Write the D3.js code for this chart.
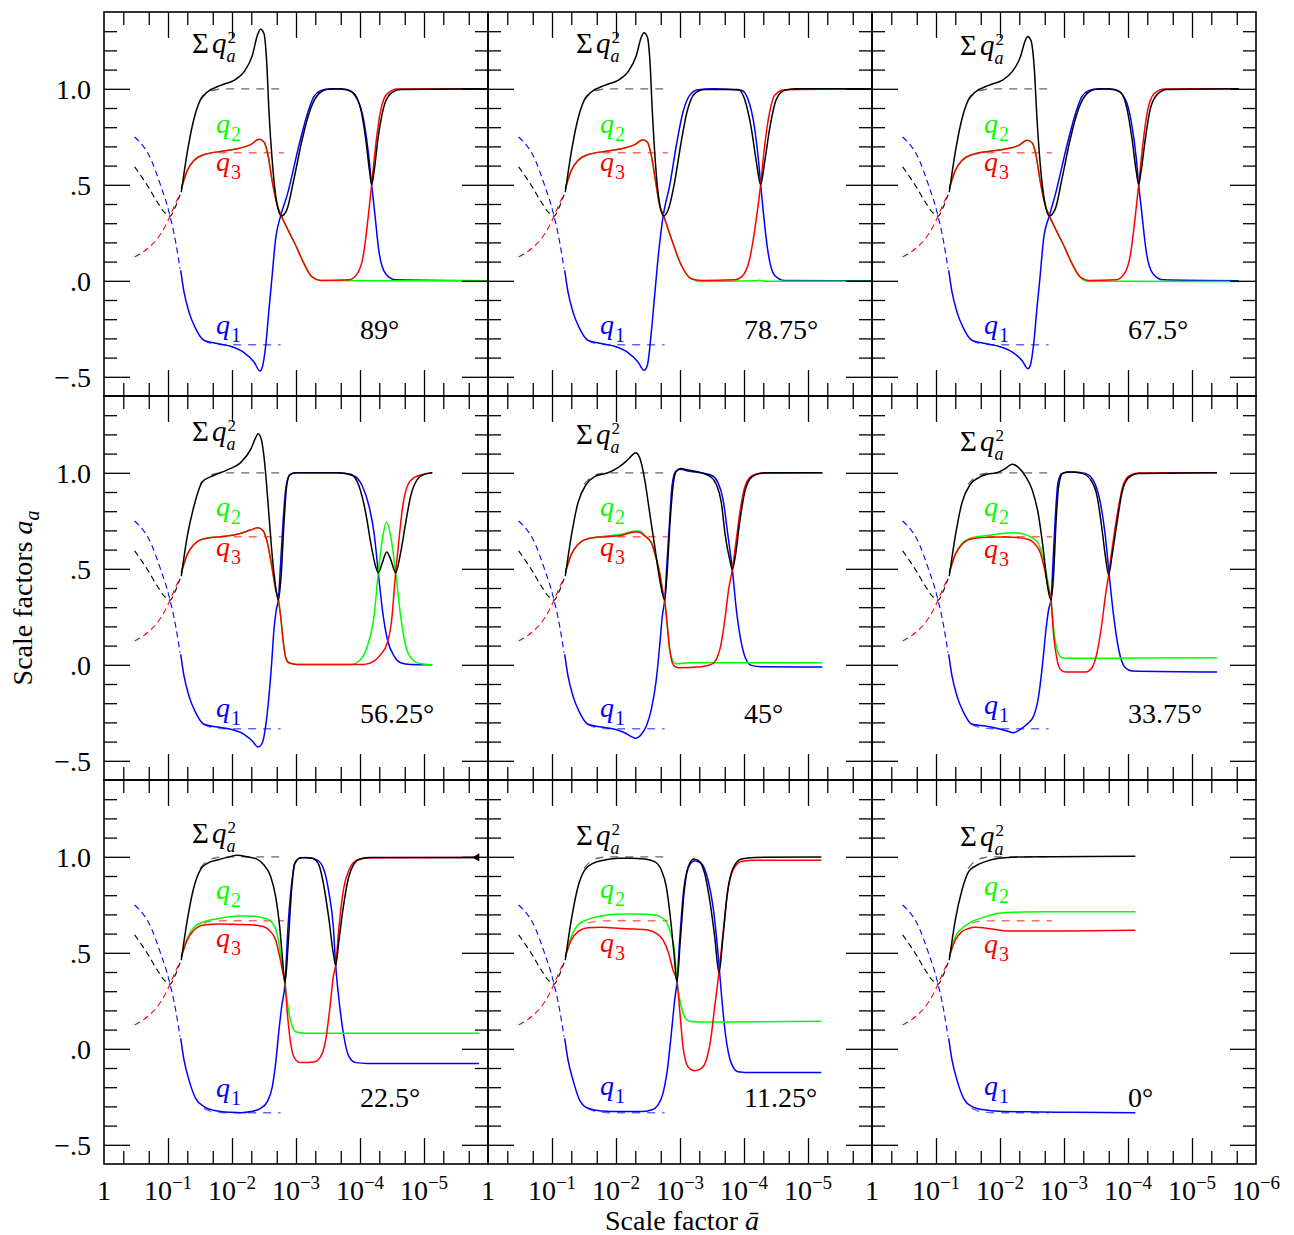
<!DOCTYPE html>
<html><head><meta charset="utf-8">
<script src="https://cdn.jsdelivr.net/npm/d3@7/dist/d3.min.js"></script>
<style>body{margin:0;background:#fff} svg text{font-family:"Liberation Serif","Times New Roman",Times,serif}</style>
</head><body>
<svg id="chart" width="1294" height="1235"></svg>
<script>
// ---------- DATA (x = log10(1/ā), value) ----------
const panelAngles = ["89°","78.75°","67.5°","56.25°","45°","33.75°","22.5°","11.25°","0°"];

// shared early dashed reference curves
const earlyQ1  = [[0.479,0.749],[0.729,0.636],[0.885,0.497],[1.016,0.358],[1.12,0.202],[1.188,0.063]];
const earlySum = [[0.479,0.593],[0.677,0.497],[0.833,0.41],[0.964,0.35],[1.031,0.337],[1.104,0.376],[1.188,0.449]];
const earlyQ3  = [[0.479,0.124],[0.677,0.167],[0.833,0.219],[0.964,0.289],[1.031,0.337],[1.104,0.393],[1.188,0.454]];
// late dashed reference levels
const refSum = [[1.5,0.94],[1.6,0.975],[1.75,0.995],[1.9,1.0],[2.81,1.0]];
const refQ3  = [[1.56,0.655],[1.7,0.664],[1.9,0.667],[2.81,0.667]];
const refQ1  = [[1.56,-0.31],[1.7,-0.328],[1.9,-0.333],[2.76,-0.333]];

// 89°
const p89Sum = [[1.208,0.462],[1.302,0.671],[1.406,0.844],[1.51,0.945],[1.615,0.983],[1.823,1.018],[2.031,1.044],[2.188,1.088],[2.318,1.174],[2.396,1.278],[2.448,1.31],[2.5,1.287],[2.542,1.14],[2.578,0.879],[2.63,0.619],[2.698,0.41],[2.771,0.338],[2.854,0.367],[2.969,0.532],[3.099,0.74],[3.229,0.897],[3.359,0.975],[3.49,0.997],[3.698,1.0],[3.88,0.983],[4.01,0.897],[4.089,0.74],[4.151,0.567],[4.182,0.501],[4.219,0.567],[4.281,0.74],[4.365,0.897],[4.479,0.975],[4.635,0.997],[5.99,1.0]];
const p89Q1 = [[1.198,0.054],[1.25,-0.058],[1.328,-0.163],[1.432,-0.249],[1.563,-0.31],[1.771,-0.327],[1.979,-0.341],[2.188,-0.374],[2.344,-0.423],[2.4375,-0.47],[2.474,-0.449],[2.526,-0.34],[2.578,-0.15],[2.62,0.0],[2.682,0.22],[2.76,0.338],[2.865,0.45],[3.047,0.706],[3.187,0.879],[3.281,0.96],[3.385,0.99],[3.542,1.0],[3.802,0.995],[3.958,0.945],[4.063,0.827],[4.141,0.636],[4.182,0.501],[4.229,0.358],[4.297,0.15],[4.401,0.037],[4.557,0.005],[5.99,0.0]];
const p89Q3 = [[1.208,0.48],[1.302,0.575],[1.406,0.627],[1.563,0.657],[1.823,0.674],[2.083,0.688],[2.292,0.709],[2.422,0.737],[2.5,0.723],[2.563,0.653],[2.63,0.515],[2.708,0.393],[2.771,0.338],[2.865,0.272],[2.995,0.185],[3.125,0.089],[3.255,0.019],[3.385,0.002],[3.828,0.005],[3.958,0.037],[4.052,0.132],[4.125,0.324],[4.182,0.501],[4.245,0.706],[4.323,0.888],[4.427,0.975],[4.583,0.999],[5.99,1.0]];
const p89Q2 = [[1.208,0.48],[1.302,0.575],[1.406,0.627],[1.563,0.657],[1.823,0.674],[2.083,0.688],[2.292,0.709],[2.422,0.737],[2.5,0.723],[2.563,0.653],[2.63,0.515],[2.708,0.393],[2.771,0.338],[2.865,0.272],[2.995,0.185],[3.125,0.089],[3.255,0.019],[3.385,0.002],[4.5,0.0],[5.99,0.0]];

// 78.75°
const p7875Sum = [[1.208,0.462],[1.302,0.671],[1.406,0.844],[1.51,0.945],[1.615,0.983],[1.823,1.018],[2.031,1.044],[2.188,1.088],[2.318,1.174],[2.396,1.27],[2.4375,1.292],[2.49,1.27],[2.531,1.14],[2.568,0.879],[2.615,0.619],[2.677,0.41],[2.745,0.338],[2.8125,0.367],[2.917,0.515],[3.01,0.706],[3.109,0.879],[3.229,0.975],[3.385,0.997],[3.906,0.997],[4.01,0.945],[4.115,0.792],[4.193,0.619],[4.26,0.501],[4.323,0.619],[4.401,0.792],[4.505,0.945],[4.635,0.992],[4.792,1.0],[5.99,1.0]];
const p7875Q1 = [[1.198,0.054],[1.25,-0.058],[1.328,-0.163],[1.432,-0.249],[1.563,-0.31],[1.771,-0.327],[1.979,-0.341],[2.188,-0.374],[2.344,-0.423],[2.4375,-0.466],[2.49,-0.44],[2.552,-0.267],[2.604,-0.076],[2.667,0.15],[2.734,0.332],[2.839,0.497],[2.943,0.706],[3.047,0.879],[3.151,0.966],[3.281,0.995],[3.542,1.0],[3.958,0.992],[4.0625,0.945],[4.167,0.792],[4.229,0.619],[4.26,0.501],[4.302,0.358],[4.375,0.15],[4.479,0.028],[4.635,0.002],[5.99,0.0]];
const p7875Q3 = [[1.208,0.48],[1.302,0.575],[1.406,0.627],[1.563,0.657],[1.823,0.674],[2.083,0.688],[2.292,0.709],[2.422,0.735],[2.49,0.723],[2.552,0.653],[2.62,0.515],[2.682,0.393],[2.745,0.338],[2.865,0.219],[3.021,0.081],[3.177,0.0105],[3.333,0.002],[3.854,0.005],[3.958,0.019],[4.089,0.115],[4.193,0.324],[4.26,0.501],[4.323,0.706],[4.401,0.879],[4.479,0.966],[4.635,0.995],[5.99,1.0]];
const p7875Q2 = [[1.208,0.48],[1.302,0.575],[1.406,0.627],[1.563,0.657],[1.823,0.674],[2.083,0.688],[2.292,0.709],[2.422,0.735],[2.49,0.723],[2.552,0.653],[2.62,0.515],[2.682,0.393],[2.745,0.338],[2.865,0.219],[3.021,0.081],[3.177,0.0105],[3.333,-0.003],[4.167,0.0],[4.245,0.003],[4.323,-0.002],[5.99,-0.002]];

// 67.5°
const p675Sum = [[1.208,0.462],[1.302,0.671],[1.406,0.844],[1.51,0.945],[1.615,0.983],[1.823,1.018],[2.031,1.044],[2.188,1.088],[2.318,1.166],[2.396,1.252],[2.432,1.273],[2.484,1.252],[2.536,1.105],[2.578,0.844],[2.63,0.601],[2.698,0.41],[2.771,0.338],[2.865,0.376],[2.969,0.532],[3.099,0.74],[3.229,0.897],[3.359,0.975],[3.49,0.997],[3.698,1.0],[3.88,0.983],[3.984,0.897],[4.0625,0.74],[4.13,0.567],[4.167,0.501],[4.203,0.567],[4.271,0.74],[4.349,0.897],[4.469,0.975],[4.609,0.997],[5.729,1.0]];
const p675Q1 = [[1.198,0.054],[1.25,-0.058],[1.328,-0.163],[1.432,-0.249],[1.563,-0.31],[1.771,-0.327],[1.979,-0.341],[2.188,-0.37],[2.344,-0.415],[2.4375,-0.458],[2.474,-0.44],[2.526,-0.33],[2.578,-0.14],[2.62,0.0],[2.682,0.22],[2.771,0.338],[2.865,0.45],[3.047,0.706],[3.187,0.879],[3.281,0.96],[3.385,0.99],[3.542,1.0],[3.802,0.995],[3.958,0.945],[4.052,0.827],[4.13,0.636],[4.167,0.501],[4.214,0.358],[4.286,0.15],[4.39,0.037],[4.55,0.005],[5.729,0.0]];
const p675Q3 = [[1.208,0.48],[1.302,0.575],[1.406,0.627],[1.563,0.657],[1.823,0.674],[2.083,0.686],[2.292,0.705],[2.422,0.732],[2.5,0.72],[2.563,0.653],[2.63,0.515],[2.708,0.393],[2.771,0.338],[2.865,0.272],[2.995,0.185],[3.125,0.089],[3.255,0.019],[3.385,0.002],[3.81,0.005],[3.943,0.037],[4.036,0.132],[4.11,0.324],[4.167,0.501],[4.23,0.706],[4.307,0.888],[4.41,0.975],[4.57,0.999],[5.729,1.0]];
const p675Q2 = [[1.208,0.48],[1.302,0.575],[1.406,0.627],[1.563,0.657],[1.823,0.674],[2.083,0.686],[2.292,0.705],[2.422,0.732],[2.5,0.72],[2.563,0.653],[2.63,0.515],[2.708,0.393],[2.771,0.338],[2.865,0.272],[2.995,0.185],[3.125,0.089],[3.255,0.019],[3.385,-0.003],[4.0,-0.002],[5.729,-0.004]];

// 56.25°
const p5625Sum = [[1.208,0.462],[1.302,0.671],[1.406,0.827],[1.536,0.952],[1.719,0.987],[1.927,1.015],[2.135,1.053],[2.292,1.122],[2.37,1.183],[2.406,1.204],[2.458,1.174],[2.51,1.053],[2.5625,0.844],[2.615,0.619],[2.667,0.445],[2.724,0.338],[2.771,0.48],[2.8125,0.74],[2.854,0.931],[2.906,0.992],[3.021,1.0],[3.646,1.0],[3.854,0.992],[3.984,0.931],[4.089,0.792],[4.167,0.636],[4.229,0.532],[4.286,0.48],[4.349,0.532],[4.417,0.588],[4.479,0.549],[4.557,0.48],[4.635,0.584],[4.714,0.74],[4.792,0.879],[4.896,0.966],[5.0,0.992],[5.13,1.0]];
const p5625Q1 = [[1.198,0.054],[1.25,-0.058],[1.328,-0.163],[1.432,-0.249],[1.563,-0.31],[1.771,-0.324],[1.979,-0.336],[2.188,-0.362],[2.318,-0.397],[2.406,-0.428],[2.474,-0.406],[2.526,-0.319],[2.578,-0.1625],[2.62,0.011],[2.656,0.185],[2.693,0.289],[2.724,0.338],[2.76,0.532],[2.797,0.74],[2.839,0.914],[2.891,0.983],[2.969,1.0],[3.646,1.0],[3.906,0.983],[4.036,0.931],[4.141,0.827],[4.219,0.688],[4.286,0.48],[4.349,0.289],[4.427,0.133],[4.531,0.046],[4.635,0.011],[4.792,0.002],[5.13,0.0]];
const p5625Q3 = [[1.208,0.48],[1.302,0.575],[1.406,0.627],[1.563,0.657],[1.823,0.667],[2.083,0.68],[2.292,0.702],[2.406,0.714],[2.49,0.697],[2.552,0.636],[2.63,0.497],[2.682,0.393],[2.724,0.338],[2.76,0.254],[2.797,0.133],[2.839,0.037],[2.891,0.0105],[3.021,0.002],[4.0625,0.002],[4.219,0.019],[4.323,0.054],[4.427,0.115],[4.49,0.219],[4.557,0.48],[4.609,0.653],[4.661,0.81],[4.74,0.931],[4.844,0.975],[5.0,0.992],[5.13,1.0]];
const p5625Q2 = [[1.208,0.48],[1.302,0.575],[1.406,0.627],[1.563,0.657],[1.823,0.667],[2.083,0.68],[2.292,0.702],[2.406,0.714],[2.49,0.697],[2.552,0.636],[2.63,0.497],[2.682,0.393],[2.724,0.338],[2.76,0.254],[2.797,0.133],[2.839,0.037],[2.891,0.0105],[3.021,0.002],[3.854,0.002],[4.01,0.028],[4.115,0.098],[4.219,0.254],[4.286,0.48],[4.349,0.653],[4.417,0.744],[4.479,0.671],[4.557,0.48],[4.635,0.254],[4.714,0.098],[4.818,0.028],[4.948,0.005],[5.13,0.0]];

// 45°
const p45Sum = [[1.208,0.462],[1.302,0.671],[1.406,0.844],[1.536,0.94],[1.667,0.98],[1.875,1.0],[2.031,1.027],[2.161,1.061],[2.266,1.096],[2.307,1.105],[2.37,1.079],[2.448,0.966],[2.526,0.792],[2.604,0.619],[2.682,0.445],[2.76,0.338],[2.802,0.497],[2.844,0.74],[2.891,0.931],[2.943,1.009],[3.01,1.022],[3.125,1.015],[3.333,1.0],[3.464,0.983],[3.568,0.94],[3.646,0.844],[3.708,0.671],[3.776,0.549],[3.818,0.497],[3.865,0.567],[3.932,0.74],[4.01,0.897],[4.089,0.966],[4.193,0.992],[4.323,1.0],[5.224,1.0]];
const p45Q1 = [[1.198,0.054],[1.25,-0.058],[1.328,-0.163],[1.432,-0.249],[1.563,-0.31],[1.771,-0.324],[1.979,-0.336],[2.135,-0.354],[2.24,-0.374],[2.307,-0.383],[2.396,-0.362],[2.474,-0.319],[2.552,-0.232],[2.63,-0.076],[2.682,0.098],[2.724,0.254],[2.76,0.338],[2.797,0.532],[2.839,0.758],[2.875,0.931],[2.927,1.004],[3.01,1.018],[3.125,1.009],[3.333,1.0],[3.49,0.987],[3.594,0.949],[3.672,0.862],[3.75,0.671],[3.818,0.497],[3.88,0.289],[3.948,0.133],[4.021,0.037],[4.115,-0.003],[4.271,-0.01],[5.224,-0.0115]];
const p45Q3 = [[1.208,0.48],[1.302,0.575],[1.406,0.627],[1.563,0.657],[1.823,0.667],[2.083,0.674],[2.292,0.692],[2.37,0.69],[2.448,0.671],[2.552,0.636],[2.604,0.584],[2.682,0.48],[2.734,0.376],[2.76,0.338],[2.797,0.219],[2.839,0.081],[2.891,0.002],[2.969,-0.016],[3.333,-0.01],[3.49,0.002],[3.568,0.028],[3.646,0.115],[3.708,0.254],[3.76,0.393],[3.818,0.497],[3.88,0.653],[3.943,0.81],[4.01,0.923],[4.115,0.983],[4.245,0.997],[5.224,1.0]];
const p45Q2 = [[1.208,0.48],[1.302,0.575],[1.406,0.627],[1.563,0.657],[1.823,0.67],[2.083,0.68],[2.292,0.697],[2.37,0.695],[2.448,0.675],[2.552,0.636],[2.604,0.584],[2.682,0.48],[2.734,0.376],[2.76,0.338],[2.797,0.219],[2.839,0.081],[2.891,0.019],[2.943,0.005],[3.125,0.0105],[3.646,0.0105],[5.224,0.0105]];

// 33.75°
const p3375Sum = [[1.208,0.462],[1.302,0.671],[1.406,0.844],[1.536,0.94],[1.667,0.975],[1.797,0.992],[1.953,1.0],[2.083,1.022],[2.188,1.044],[2.292,1.027],[2.396,0.983],[2.5,0.914],[2.604,0.775],[2.682,0.584],[2.734,0.428],[2.797,0.338],[2.839,0.48],[2.875,0.74],[2.917,0.931],[2.979,0.997],[3.073,1.004],[3.281,0.997],[3.411,0.966],[3.516,0.879],[3.594,0.706],[3.646,0.567],[3.698,0.468],[3.75,0.567],[3.828,0.74],[3.906,0.897],[4.01,0.975],[4.167,0.997],[5.391,1.0]];
const p3375Q1 = [[1.198,0.054],[1.25,-0.058],[1.328,-0.163],[1.432,-0.249],[1.563,-0.31],[1.771,-0.319],[1.979,-0.333],[2.135,-0.347],[2.214,-0.354],[2.318,-0.336],[2.422,-0.31],[2.526,-0.267],[2.604,-0.1625],[2.667,0.011],[2.719,0.185],[2.76,0.289],[2.797,0.338],[2.828,0.532],[2.865,0.775],[2.906,0.949],[2.969,0.997],[3.125,1.004],[3.333,0.997],[3.464,0.957],[3.568,0.844],[3.646,0.671],[3.708,0.462],[3.776,0.254],[3.854,0.081],[3.958,-0.015],[4.0625,-0.032],[5.391,-0.0375]];
const p3375Q3 = [[1.208,0.48],[1.302,0.575],[1.406,0.627],[1.563,0.657],[1.823,0.664],[2.083,0.666],[2.292,0.662],[2.448,0.653],[2.552,0.627],[2.63,0.584],[2.708,0.48],[2.76,0.393],[2.797,0.338],[2.839,0.15],[2.891,0.028],[2.943,-0.024],[3.021,-0.0375],[3.333,-0.0375],[3.4375,-0.015],[3.516,0.063],[3.594,0.219],[3.646,0.358],[3.698,0.468],[3.75,0.601],[3.828,0.775],[3.906,0.914],[4.01,0.983],[4.167,0.999],[5.391,1.0]];
const p3375Q2 = [[1.208,0.48],[1.302,0.575],[1.406,0.633],[1.563,0.662],[1.823,0.674],[2.083,0.685],[2.188,0.688],[2.344,0.683],[2.5,0.662],[2.604,0.627],[2.682,0.549],[2.76,0.41],[2.797,0.338],[2.839,0.185],[2.891,0.081],[2.969,0.037],[3.125,0.034],[4.167,0.035],[5.391,0.037]];

// 22.5°
const p225Sum = [[1.208,0.462],[1.302,0.671],[1.406,0.844],[1.51,0.935],[1.615,0.966],[1.771,0.983],[1.927,0.997],[2.083,1.008],[2.24,1.0],[2.396,0.987],[2.5,0.957],[2.604,0.897],[2.682,0.792],[2.745,0.636],[2.786,0.48],[2.828,0.344],[2.875,0.532],[2.927,0.81],[2.979,0.966],[3.047,0.992],[3.125,0.997],[3.255,0.992],[3.359,0.957],[3.4375,0.844],[3.516,0.671],[3.583,0.497],[3.62,0.436],[3.672,0.567],[3.74,0.74],[3.8125,0.879],[3.896,0.957],[4.01,0.99],[4.167,0.997],[5.859,0.997]];
const p225Q1 = [[1.198,0.054],[1.25,-0.058],[1.328,-0.163],[1.432,-0.258],[1.563,-0.301],[1.771,-0.324],[1.979,-0.331],[2.135,-0.333],[2.292,-0.327],[2.448,-0.31],[2.552,-0.275],[2.63,-0.197],[2.682,-0.076],[2.734,0.098],[2.776,0.219],[2.828,0.341],[2.875,0.636],[2.927,0.844],[2.984,0.966],[3.073,0.995],[3.177,0.995],[3.333,0.983],[3.4375,0.931],[3.516,0.81],[3.583,0.636],[3.62,0.436],[3.672,0.254],[3.74,0.081],[3.828,-0.041],[3.932,-0.072],[4.115,-0.076],[5.859,-0.076]];
const p225Q3 = [[1.208,0.48],[1.302,0.567],[1.406,0.619],[1.563,0.645],[1.823,0.65],[2.083,0.648],[2.344,0.645],[2.5,0.636],[2.604,0.61],[2.682,0.567],[2.745,0.48],[2.797,0.393],[2.828,0.341],[2.865,0.185],[2.917,0.028],[2.979,-0.05],[3.073,-0.072],[3.281,-0.069],[3.385,-0.041],[3.464,0.046],[3.531,0.219],[3.583,0.376],[3.62,0.436],[3.672,0.636],[3.74,0.827],[3.828,0.931],[3.958,0.983],[4.167,0.995],[5.859,0.997]];
const p225Q2 = [[1.208,0.48],[1.302,0.575],[1.406,0.633],[1.563,0.662],[1.823,0.68],[2.083,0.692],[2.24,0.692],[2.448,0.685],[2.578,0.671],[2.667,0.636],[2.734,0.549],[2.786,0.428],[2.828,0.341],[2.875,0.219],[2.927,0.133],[2.995,0.089],[3.125,0.081],[5.859,0.081]];

// 11.25°
const p1125Sum = [[1.208,0.462],[1.302,0.671],[1.406,0.844],[1.51,0.931],[1.641,0.966],[1.823,0.983],[2.031,0.992],[2.24,0.992],[2.448,0.989],[2.604,0.975],[2.708,0.931],[2.786,0.844],[2.854,0.671],[2.906,0.497],[2.953,0.35],[3.005,0.567],[3.073,0.844],[3.151,0.966],[3.219,0.989],[3.307,0.975],[3.385,0.914],[3.464,0.775],[3.542,0.584],[3.609,0.397],[3.672,0.584],[3.74,0.81],[3.828,0.94],[3.958,0.989],[4.167,0.997],[5.208,0.999]];
const p1125Q1 = [[1.198,0.054],[1.25,-0.058],[1.328,-0.163],[1.432,-0.267],[1.563,-0.31],[1.771,-0.324],[2.083,-0.327],[2.396,-0.327],[2.552,-0.319],[2.656,-0.293],[2.734,-0.232],[2.802,-0.11],[2.865,0.081],[2.917,0.254],[2.953,0.35],[2.995,0.567],[3.047,0.792],[3.125,0.94],[3.229,0.98],[3.333,0.966],[3.4375,0.879],[3.516,0.74],[3.594,0.497],[3.646,0.289],[3.708,0.081],[3.802,-0.076],[3.906,-0.119],[4.115,-0.124],[5.208,-0.124]];
const p1125Q3 = [[1.208,0.48],[1.302,0.567],[1.406,0.61],[1.563,0.631],[1.771,0.633],[2.083,0.627],[2.292,0.624],[2.5,0.619],[2.63,0.601],[2.734,0.567],[2.823,0.497],[2.891,0.41],[2.953,0.35],[2.995,0.202],[3.047,0.011],[3.125,-0.093],[3.229,-0.114],[3.333,-0.102],[3.411,-0.058],[3.479,0.046],[3.542,0.219],[3.609,0.397],[3.672,0.601],[3.74,0.81],[3.828,0.931],[3.958,0.975],[4.167,0.982],[5.208,0.982]];
const p1125Q2 = [[1.208,0.48],[1.302,0.584],[1.406,0.645],[1.563,0.674],[1.771,0.692],[2.083,0.702],[2.344,0.702],[2.604,0.697],[2.734,0.68],[2.839,0.619],[2.917,0.497],[2.953,0.35],[3.021,0.219],[3.083,0.159],[3.177,0.141],[3.385,0.14],[5.208,0.143]];

// 0°
const p0Sum = [[1.208,0.462],[1.302,0.671],[1.406,0.827],[1.51,0.923],[1.615,0.952],[1.771,0.975],[1.979,0.992],[2.344,0.999],[2.865,1.0],[4.115,1.003]];
const p0Q1 = [[1.198,0.054],[1.25,-0.058],[1.328,-0.163],[1.432,-0.258],[1.563,-0.301],[1.771,-0.319],[2.083,-0.327],[2.604,-0.329],[3.125,-0.331],[4.115,-0.333]];
const p0Q3 = [[1.208,0.48],[1.302,0.567],[1.406,0.61],[1.51,0.627],[1.615,0.633],[1.823,0.627],[2.083,0.614],[2.344,0.614],[2.865,0.614],[4.115,0.617]];
const p0Q2 = [[1.208,0.48],[1.302,0.584],[1.406,0.627],[1.563,0.662],[1.771,0.688],[1.979,0.706],[2.344,0.7125],[2.865,0.714],[4.115,0.714]];

// ticks
const yMajor = [-0.5, 0, 0.5, 1.0];
const yMinor = [-0.4,-0.3,-0.2,-0.1,0.1,0.2,0.3,0.4,0.6,0.7,0.8,0.9,1.1,1.2,1.3];
const yTickText = ["−.5", ".0", ".5", "1.0"];
const xMajor = [1e-1,1e-2,1e-3,1e-4,1e-5];
const xMinor = [5e-1,2e-1,5e-2,2e-2,5e-3,2e-3,5e-4,2e-4,5e-5,2e-5,5e-6,2e-6];
const xLabelExp = [0,1,2,3,4,5];

// ---------- LAYOUT ----------
const panelSeries = [
  [p89Sum,p89Q1,p89Q2,p89Q3],[p7875Sum,p7875Q1,p7875Q2,p7875Q3],[p675Sum,p675Q1,p675Q2,p675Q3],
  [p5625Sum,p5625Q1,p5625Q2,p5625Q3],[p45Sum,p45Q1,p45Q2,p45Q3],[p3375Sum,p3375Q1,p3375Q2,p3375Q3],
  [p225Sum,p225Q1,p225Q2,p225Q3],[p1125Sum,p1125Q1,p1125Q2,p1125Q3],[p0Sum,p0Q1,p0Q2,p0Q3]
];
const sumLabY = [40.7,40.7,42.7,45,48.3,55,62.7,65,66];
const q2LabY  = [121,121,121,120,120,120,119,118,115];
const q3LabY  = [159,159,159,160,160,162,167,172,173];
const q1LabY  = [322,322,322,321,321,318,317,315,315];

const L0 = 104, T0 = 12, S = 384;
const FS = 28, FSS = 19;
const COL = {sum:"#000000", q1:"#0000ff", q2:"#00ff00", q3:"#ff0000"};

const svg = d3.select("#chart");
svg.append("rect").attr("width",1294).attr("height",1235).attr("fill","#fff");

panelSeries.forEach((ser, i) => {
  const c = i % 3, r = Math.floor(i / 3);
  const x0 = L0 + c*S, y0 = T0 + r*S;
  const x = d3.scaleLog().domain([1, 1e-6]).range([x0, x0+S]);
  const y = d3.scaleLinear().domain([-0.6, 1.4]).range([y0+S, y0]);
  const g = svg.append("g");
  const line = d3.line().x(d => x(Math.pow(10, -d[0]))).y(d => y(d[1])).curve(d3.curveMonotoneX);
  const clipId = "clip"+i;
  g.append("clipPath").attr("id", clipId).append("rect").attr("x",x0).attr("y",y0).attr("width",S).attr("height",S);
  const cg = g.append("g").attr("clip-path", `url(#${clipId})`);

  // early dashed
  const early = [[earlyQ1,COL.q1],[earlySum,COL.sum],[earlyQ3,COL.q3]];
  early.forEach(([d,col]) => cg.append("path").attr("d", line(d)).attr("fill","none")
      .attr("stroke", col).attr("stroke-width",1.1).attr("stroke-dasharray","6,4"));
  const refs = [[refSum,COL.sum],[refQ3,COL.q3],[refQ1,COL.q1]];
  refs.forEach(([d,col]) => cg.append("path").attr("d", line(d)).attr("fill","none")
      .attr("stroke", col).attr("stroke-opacity",0.6).attr("stroke-width",1.3).attr("stroke-dasharray","8,7"));

  // solid curves: order blue, green, red, black
  const [sSum,sQ1,sQ2,sQ3] = ser;
  [[sQ1,COL.q1],[sQ2,COL.q2],[sQ3,COL.q3],[sSum,COL.sum]].forEach(([d,col]) =>
    cg.append("path").attr("d", line(d)).attr("fill","none").attr("stroke",col)
      .attr("stroke-width",1.5).attr("stroke-linejoin","round"));

  // small end marker on the 22.5° sum curve
  if (i === 6) {
    const last = sSum[sSum.length-1];
    g.append("path").attr("d", d3.symbol(d3.symbolTriangle, 28)())
      .attr("transform", `translate(${x(Math.pow(10,-last[0]))-2},${y(last[1])}) rotate(-90)`).attr("fill","#000");
  }

  // ticks (inward on all sides)
  const tickStyle = sel => { sel.select(".domain").remove(); sel.selectAll("line").attr("stroke","#000").attr("stroke-width",1.3); };
  const ax = [
    [d3.axisLeft(y), `translate(${x0},0)`, yMajor, yMinor],
    [d3.axisRight(y), `translate(${x0+S},0)`, yMajor, yMinor],
    [d3.axisTop(x), `translate(0,${y0})`, xMajor, xMinor],
    [d3.axisBottom(x), `translate(0,${y0+S})`, xMajor, xMinor]
  ];
  ax.forEach(([axis, tr, maj, min]) => {
    g.append("g").attr("transform", tr).call(axis.tickValues(maj).tickSize(-26).tickSizeOuter(0).tickFormat("")).call(tickStyle);
    g.append("g").attr("transform", tr).call(axis.tickValues(min).tickSize(-13).tickSizeOuter(0).tickFormat("")).call(tickStyle);
  });

  // frame
  g.append("rect").attr("x",x0).attr("y",y0).attr("width",S).attr("height",S)
    .attr("fill","none").attr("stroke","#000").attr("stroke-width",1.6);

  // y tick labels
  if (c === 0) {
    yMajor.forEach((v,k) => g.append("text").attr("x", x0-13).attr("y", y(v)).attr("dy","0.35em")
      .attr("text-anchor","end").attr("font-size",FS).text(yTickText[k]));
  }
  // x tick labels
  if (r === 2) {
    const exps = c === 2 ? xLabelExp.concat([6]) : xLabelExp;
    exps.forEach(e => {
      const t = g.append("text").attr("x", x(Math.pow(10,-e))).attr("y", 1200)
        .attr("text-anchor","middle").attr("font-size",FS);
      if (e === 0) t.text("1");
      else { t.append("tspan").text("10"); t.append("tspan").attr("dy",-11).attr("font-size",FSS).text("−"+e); }
    });
  }

  // Σ q_a^2 label (single text element, stacked sub/superscript)
  const lx = x0 + 88, ly = y0 + sumLabY[i];
  const st = g.append("text").attr("x",lx).attr("y",ly).attr("font-size",FS+1).attr("fill","#000");
  st.append("tspan").text("Σ");
  st.append("tspan").attr("font-style","italic").attr("dx",3).text("q");
  const w = st.node().getComputedTextLength() + 3;
  st.append("tspan").attr("dx",1).attr("dy",-10).attr("font-size",17).text("2");
  st.append("tspan").attr("x",lx+w).attr("dy",19).attr("font-size",18).attr("font-style","italic").text("a");

  const qLab = (yy, col, sub) => {
    const t = g.append("text").attr("x", x0+112).attr("y", y0+yy).attr("font-size",FS).attr("fill",col);
    t.append("tspan").attr("font-style","italic").text("q");
    t.append("tspan").attr("dy",8).attr("dx",1).attr("font-size",FSS+1).text(sub);
  };
  qLab(q2LabY[i], COL.q2, "2");
  qLab(q3LabY[i], COL.q3, "3");
  qLab(q1LabY[i], COL.q1, "1");

  g.append("text").attr("x", x0+256).attr("y", y0+327).attr("font-size",FS).text(panelAngles[i]);
});

// axis titles
const xt = svg.append("text").attr("x",682).attr("y",1230).attr("text-anchor","middle").attr("font-size",FS);
xt.append("tspan").text("Scale factor ");
xt.append("tspan").attr("font-style","italic").text("ā");
const yt = svg.append("text").attr("transform","translate(32,598) rotate(-90)").attr("text-anchor","middle").attr("font-size",FS);
yt.append("tspan").text("Scale factors ");
yt.append("tspan").attr("font-style","italic").text("a");
yt.append("tspan").attr("font-style","italic").attr("dy",7).attr("font-size",FSS+1).text("a");
</script>
</body></html>
